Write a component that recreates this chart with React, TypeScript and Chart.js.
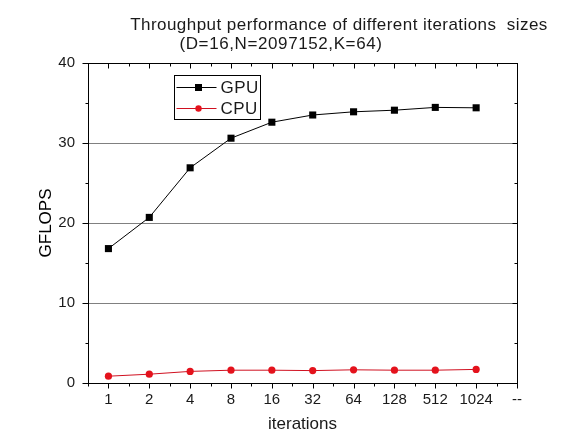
import { useEffect, useRef } from "react";
import { Chart, registerables } from "chart.js";

Chart.register(...registerables);

// Values
const iterationLabels = ["1", "2", "4", "8", "16", "32", "64", "128", "512", "1024", "--"];
const gpuGflops = [16.8, 20.7, 26.9, 30.6, 32.6, 33.5, 33.9, 34.1, 34.45, 34.4];
const cpuGflops = [0.85, 1.1, 1.45, 1.6, 1.6, 1.55, 1.65, 1.6, 1.6, 1.7];
const titleLines = ["Throughput performance of different iterations  sizes", "(D=16,N=2097152,K=64)"];

const FONT = "'Liberation Sans', Arial, sans-serif";
const TEXT = "#1a1a1a";

// Frame, Origin-style ticks and the boxed legend
const framePlugin = {
  id: "frame",
  afterDatasetsDraw(chart: any) {
    const { ctx, chartArea: a, scales } = chart;
    const xs = scales.x;
    const ys = scales.y;
    const L = Math.round(a.left) + 0.5;
    const R = Math.round(a.right) + 0.5;
    const T = Math.round(a.top) + 0.5;
    const B = Math.round(a.bottom) + 0.5;
    ctx.save();
    ctx.strokeStyle = "#000";
    ctx.lineWidth = 1;
    ctx.strokeRect(L, T, R - L, B - T);

    ctx.beginPath();
    const steps = Math.round((xs.max - xs.min) * 2);
    for (let i = 0; i <= steps; i++) {
      const v = xs.min + i * 0.5;
      const px = Math.round(xs.getPixelForValue(v)) + 0.5;
      const major = Math.abs(v - Math.round(v)) < 1e-6;
      const len = major ? 5 : 3;
      ctx.moveTo(px, B);
      ctx.lineTo(px, B + len);
      ctx.moveTo(px, T);
      ctx.lineTo(px, T + len);
    }
    for (let v = ys.min; v <= ys.max; v += 5) {
      const py = Math.round(ys.getPixelForValue(v)) + 0.5;
      const major = v % 10 === 0;
      ctx.moveTo(L, py);
      ctx.lineTo(L - (major ? 6 : 3), py);
      if (v > ys.min && v < ys.max) {
        ctx.moveTo(R, py);
        ctx.lineTo(R - (major ? 5 : 3), py);
      }
    }
    ctx.stroke();

    // legend box
    const bx = Math.round(a.left + 86) + 0.5;
    const by = Math.round(a.top + 12) + 0.5;
    const bw = 86;
    const bh = 44;
    ctx.fillStyle = "#fff";
    ctx.fillRect(bx, by, bw, bh);
    ctx.strokeStyle = "#000";
    ctx.strokeRect(bx, by, bw, bh);
    ctx.font = `17px ${FONT}`;
    (ctx as any).letterSpacing = "0.5px";
    ctx.textBaseline = "middle";
    chart.data.datasets.forEach((ds: any, i: number) => {
      const ry = Math.round(by + 11 + i * 21) + 0.5;
      ctx.strokeStyle = ds.borderColor;
      ctx.lineWidth = 1;
      ctx.beginPath();
      ctx.moveTo(bx + 2, ry);
      ctx.lineTo(bx + 42, ry);
      ctx.stroke();
      ctx.fillStyle = ds.pointBackgroundColor;
      if (ds.pointStyle === "rect") {
        ctx.fillRect(bx + 20.5, ry - 3.5, 7, 7);
      } else {
        ctx.beginPath();
        ctx.arc(bx + 24, ry, 3.2, 0, Math.PI * 2);
        ctx.fill();
      }
      ctx.fillStyle = TEXT;
      ctx.textAlign = "left";
      ctx.fillText(ds.label, bx + 46, ry + 1);
    });
    ctx.restore();
  },
  afterDraw(chart: any) {
    const { ctx } = chart;
    ctx.save();
    ctx.fillStyle = TEXT;
    ctx.font = `17px ${FONT}`;
    (ctx as any).letterSpacing = "0.45px";
    ctx.textAlign = "center";
    ctx.textBaseline = "alphabetic";
    ctx.fillText(titleLines[0], 339, 30);
    (ctx as any).letterSpacing = "0.6px";
    ctx.fillText(titleLines[1], 281, 49);
    ctx.restore();
  },
};

export default function App() {
  const canvasRef = useRef<HTMLCanvasElement>(null);
  const chartRef = useRef<Chart | null>(null);

  useEffect(() => {
    if (!canvasRef.current) return;
    if (chartRef.current) chartRef.current.destroy();

    chartRef.current = new Chart(canvasRef.current, {
      type: "line",
      data: {
        datasets: [
          {
            label: "GPU",
            data: gpuGflops.map((v, i) => ({ x: i, y: v })),
            borderColor: "#000",
            backgroundColor: "#000",
            pointBackgroundColor: "#000",
            pointBorderColor: "#000",
            pointStyle: "rect",
            pointRadius: 5,
            pointBorderWidth: 0,
            borderWidth: 1,
            tension: 0,
          },
          {
            label: "CPU",
            data: cpuGflops.map((v, i) => ({ x: i, y: v })),
            borderColor: "#d01020",
            backgroundColor: "#e4121c",
            pointBackgroundColor: "#e4121c",
            pointBorderColor: "#e4121c",
            pointStyle: "circle",
            pointRadius: 3.6,
            pointBorderWidth: 0,
            borderWidth: 1,
            tension: 0,
          },
        ],
      },
      options: {
        responsive: true,
        maintainAspectRatio: false,
        animation: false,
        layout: { padding: { left: 0, right: 51, top: 63, bottom: 0 } },
        plugins: {
          legend: { display: false },
          title: { display: false },
          tooltip: { enabled: false },
        },
        scales: {
          x: {
            type: "linear",
            min: -0.5,
            max: iterationLabels.length - 1,
            grid: { display: false },
            border: { display: false },
            afterBuildTicks: (scale: any) => {
              scale.ticks = iterationLabels.map((_, i) => ({ value: i }));
            },
            afterFit: (scale: any) => {
              scale.height = 64;
            },
            ticks: {
              autoSkip: false,
              maxRotation: 0,
              padding: 0,
              color: TEXT,
              font: { family: FONT, size: 15 },
              callback: (value: any) => iterationLabels[Math.round(value)] ?? "",
            },
            title: {
              display: true,
              text: "iterations",
              color: TEXT,
              font: { family: FONT, size: 17 },
              padding: { top: 0, bottom: 12 },
            },
          },
          y: {
            min: 0,
            max: 40,
            grid: {
              drawTicks: false,
              color: (c: any) => (c.tick && c.tick.value > 0 && c.tick.value < 40 ? "#808080" : "rgba(0,0,0,0)"),
              lineWidth: 1,
            },
            border: { display: false },
            afterFit: (scale: any) => {
              scale.width = 88;
            },
            ticks: {
              stepSize: 10,
              padding: 13,
              color: TEXT,
              font: { family: FONT, size: 15 },
            },
            title: {
              display: true,
              text: "GFLOPS",
              color: "#000",
              font: { family: FONT, size: 17 },
              padding: { top: 36, bottom: 0 },
            },
          },
        },
      },
      plugins: [framePlugin],
    } as any);

    return () => {
      if (chartRef.current) {
        chartRef.current.destroy();
        chartRef.current = null;
      }
    };
  }, []);

  return (
    <div style={{ position: "absolute", left: 0, top: 0, width: 568, height: 447, background: "#fff" }}>
      <canvas ref={canvasRef} />
    </div>
  );
}
